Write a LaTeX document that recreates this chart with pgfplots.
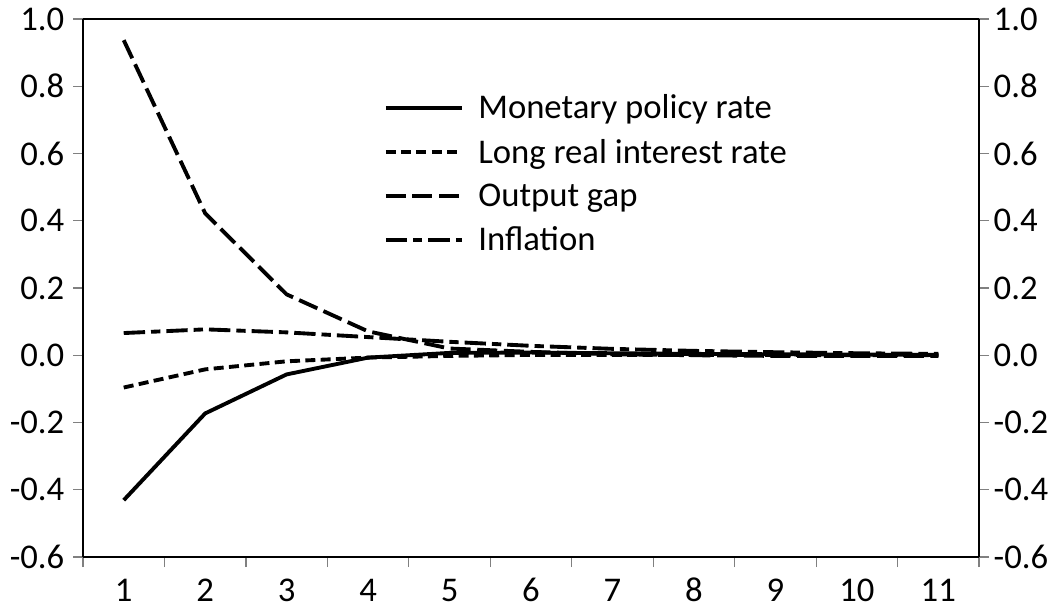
\documentclass[border=0pt]{standalone}
\usepackage{pgfplots}
\pgfplotsset{compat=1.18}
\usepackage{fontspec}
\setmainfont{Carlito}
\begin{document}
\begin{tikzpicture}
\pgfplotsset{
  common/.style={
    scale only axis, width=672pt, height=403.5pt,
    xmin=0.5, xmax=11.5, ymin=-0.6, ymax=1.0,
    ytick={-0.6,-0.4,...,1.01},
    /pgf/number format/assume math mode=true,
    yticklabel style={/pgf/number format/fixed, /pgf/number format/fixed zerofill, /pgf/number format/precision=1},
    tick label style={font=\fontsize{26}{30}\selectfont},
    tick align=outside, major tick length=7.5pt, minor tick length=7.5pt,
    every tick/.style={gray, line width=0.9pt},
    axis line style={black, line width=1pt},
  }
}
\begin{axis}[common, name=main,
  axis y line*=left, axis x line*=bottom,
  xtick={1,...,11},
  major x tick style={draw=none},
  minor xtick={0.5,1.5,...,11.5},
  minor x tick style={gray, line width=0.9pt},
  xticklabel style={text height=17pt, text depth=0pt, anchor=north, yshift=-5pt},
  yticklabel style={/tikz/xshift=-3pt},
  legend style={draw=none, fill=none, at={(0.331,0.872)}, anchor=north west,
    font=\fontsize{26}{30}\selectfont, row sep=7.8pt,
    nodes={inner sep=3pt},
    /tikz/every odd column/.append style={column sep=8pt}},
  legend cell align=left,
  legend image code/.code={\draw[#1, line width=2.9pt] (0pt,0pt) -- (57pt,0pt);},
]
\addplot[black, line width=2.9pt, solid] coordinates {(1,-0.431) (2,-0.173) (3,-0.057) (4,-0.007) (5,0.007) (6,0.008) (7,0.006) (8,0.004) (9,0.003) (10,0.002) (11,0.001)};
\addlegendentry{Monetary policy rate}
\addplot[black, line width=2.9pt, dash pattern=on 7.5pt off 4pt] coordinates {(1,-0.096) (2,-0.042) (3,-0.018) (4,-0.007) (5,-0.002) (6,0.001) (7,0.001) (8,0.001) (9,0.001) (10,0.0) (11,0.0)};
\addlegendentry{Long real interest rate}
\addplot[black, line width=2.9pt, dash pattern=on 15pt off 5pt] coordinates {(1,0.937) (2,0.422) (3,0.181) (4,0.071) (5,0.02) (6,0.01) (7,0.003) (8,0.0) (9,-0.002) (10,-0.002) (11,-0.002)};
\addlegendentry{Output gap}
\addplot[black, line width=2.9pt, dash pattern=on 16pt off 4.5pt on 7pt off 4.5pt] coordinates {(1,0.066) (2,0.077) (3,0.068) (4,0.054) (5,0.04) (6,0.028) (7,0.019) (8,0.013) (9,0.009) (10,0.006) (11,0.004)};
\addlegendentry{Inflation}
\end{axis}
\begin{axis}[common,
  axis y line*=right, axis x line*=top,
  xtick=\empty,
]
\end{axis}
\pgfresetboundingbox
\useasboundingbox ([xshift=-62.25pt,yshift=-39pt]main.south west) rectangle ([xshift=59.25pt,yshift=14.25pt]main.north east);
\end{tikzpicture}
\end{document}
